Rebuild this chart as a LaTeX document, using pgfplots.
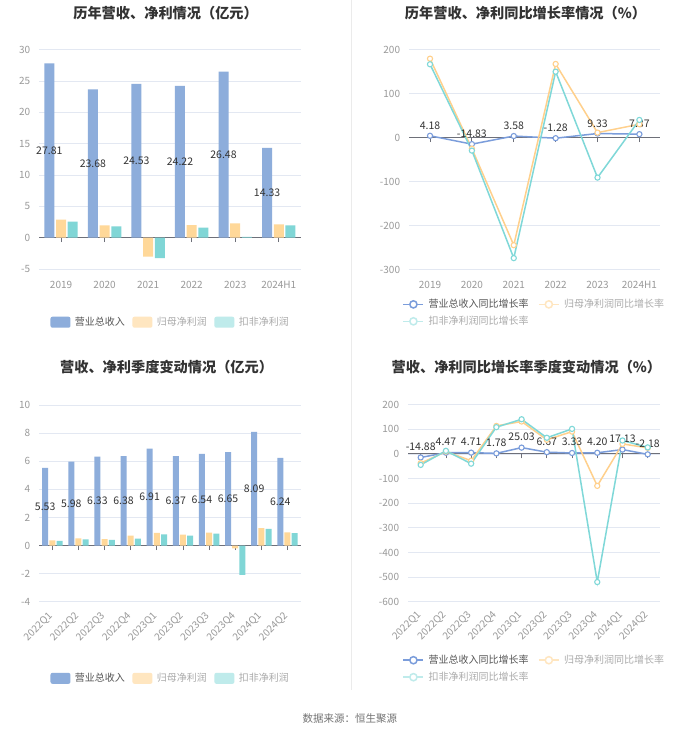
\documentclass[border=0pt]{standalone}
\usepackage{pgfplots}
\pgfplotsset{compat=1.18}
\usepackage{pgfplotstable}
\usepackage{fontspec}
\setmainfont{Noto Sans CJK SC}

\definecolor{cBlue}{HTML}{8DADDB}
\definecolor{cYel}{HTML}{FFD899}
\definecolor{cCyan}{HTML}{80D6D6}
\definecolor{lYel}{HTML}{FFE6C0}
\definecolor{lCyan}{HTML}{BFEBEB}
\definecolor{lnBlue}{HTML}{7B9DDB}
\definecolor{lnYel}{HTML}{FFD08C}
\definecolor{lnCyan}{HTML}{7FD8D8}
\definecolor{cGrid}{HTML}{E3E8F2}
\definecolor{cAxis}{HTML}{6E7079}
\definecolor{cTick}{HTML}{999999}
\definecolor{cTitle}{HTML}{333333}
\definecolor{cLab}{HTML}{333333}
\definecolor{cLeg}{HTML}{555555}
\definecolor{cLegL}{HTML}{AAAAAA}

% annual values (100M yuan)
\pgfplotstableread{
x rev np dnp
0 27.81 2.87 2.55
1 23.68 1.96 1.80
2 24.53 -3.03 -3.30
3 24.22 2.00 1.60
4 26.48 2.28 0.10
5 14.33 2.12 1.96
}\tabA
% annual growth (%)
\pgfplotstableread{
x rev np dnp
0 4.18 179.5 166.8
1 -14.83 -25.0 -29.5
2 3.58 -244.6 -274.0
3 -1.28 167.5 150.0
4 9.33 11.4 -90.9
5 7.87 30.4 40.2
}\tabB
% quarterly values (100M yuan)
\pgfplotstableread{
x rev np dnp
0 5.53 0.38 0.33
1 5.98 0.52 0.45
2 6.33 0.47 0.40
3 6.38 0.71 0.50
4 6.91 0.90 0.80
5 6.37 0.78 0.71
6 6.54 0.92 0.85
7 6.65 -0.20 -2.09
8 8.09 1.24 1.19
9 6.24 0.95 0.88
}\tabC
% quarterly growth (%)
\pgfplotstableread{
x rev np dnp
0 -14.88 -38 -45
1 4.47 9 12
2 4.71 -28 -40
3 1.78 113 108
4 25.03 131 140
5 6.67 57 65
6 3.33 90 101
7 4.20 -130 -520
8 17.13 40 54
9 -2.18 24 26
}\tabD

\pgfplotsset{
  base/.style={
    scale only axis, anchor=south west, clip=false,
    axis x line=middle, axis y line=left,
    x axis line style={-, draw=cAxis, line width=0.8pt},
    y axis line style={draw=none},
    ytick style={draw=none},
    xtick style={draw=cAxis, line width=0.8pt},
    tick align=outside, major tick length=4.5pt,
    hide obscured x ticks=false, hide obscured y ticks=false,
    ymajorgrids, grid style={cGrid, line width=0.6pt},
    tick label style={font=\fontsize{10}{12}\selectfont, text=cTick},
    yticklabel style={anchor=east, xshift=-1pt},
    /pgf/number format/assume math mode=true,
    enlargelimits=false,
    legend style={draw=none, fill=none, inner sep=0pt,
      font=\fontsize{10}{12}\selectfont,
      nodes={inner sep=1.5pt, anchor=west}},
    legend cell align=left,
  },
  barleg/.style={
    legend image code/.code={\fill[##1, draw=none, rounded corners=2pt] (0pt,-5.5pt) rectangle (20pt,5.5pt);},
    legend columns=3,
    legend style={/tikz/every odd column/.append style={column sep=3pt},
                  /tikz/every even column/.append style={column sep=6pt}},
  },
  lineleg/.style={
    legend image code/.code={\draw[##1, line width=1.5pt] (0pt,0pt) -- (20pt,0pt);
       \draw[##1, line width=1.5pt, fill=white] (10pt,0pt) circle (3.6pt);},
    legend columns=2,
    legend style={row sep=4pt,
                  /tikz/every odd column/.append style={column sep=3pt},
                  /tikz/every even column/.append style={column sep=8pt}},
  },
  vlab/.style={
    nodes near coords={\pgfmathprintnumber[fixed,fixed zerofill,precision=2]{\pgfplotspointmeta}},
    every node near coord/.append style={font=\fontsize{10.5}{12}\selectfont, text=cLab},
  },
  ln/.style={line width=1.5pt, color=#1, mark=*, mark size=2.6pt,
    mark options={fill=white, draw=#1, line width=1.1pt}},
}

\begin{document}
\begin{tikzpicture}
\fill[white] (0pt,0pt) rectangle (700pt,734pt);
\draw[color=black!8, line width=0.8pt] (352pt,734pt) -- (352pt,44pt);

% ---------------- panel 1 ----------------
\node[font=\fontsize{14.2}{16}\selectfont\bfseries, text=cTitle] at (165.7pt,721.3pt) {历年营收、净利情况（亿元）};
\begin{axis}[base, barleg,
  at={(39.3pt,465.4pt)}, width=261.4pt, height=219.3pt,
  xmin=-0.5, xmax=5.5, ymin=-5, ymax=30,
  ytick={-5,0,...,30},
  xtick={0,...,5}, xticklabels={2019,2020,2021,2022,2023,2024H1},
  xticklabel style={anchor=center, yshift=-42.7pt},
  legend style={at={(0.502,-0.2435)}, anchor=center},
]
\addplot[forget plot, ybar, bar width=10pt, bar shift=-11.7pt, fill=cBlue, draw=none] table[x=x, y=rev] {\tabA};
\addplot[forget plot, ybar, bar width=10pt, bar shift=0pt, fill=cYel, draw=none] table[x=x, y=np] {\tabA};
\addplot[forget plot, ybar, bar width=10pt, bar shift=11.7pt, fill=cCyan, draw=none] table[x=x, y=dnp] {\tabA};
\addplot[forget plot, draw=none, mark=none, vlab, point meta=explicit,
  every node near coord/.append style={anchor=center, xshift=-11.7pt}]
  table[x=x, y expr=\thisrow{rev}/2, meta=rev] {\tabA};
\addlegendimage{fill=cBlue}\addlegendentry{\textcolor{cLeg}{营业总收入}}
\addlegendimage{fill=lYel}\addlegendentry{\textcolor{cLegL}{归母净利润}}
\addlegendimage{fill=lCyan}\addlegendentry{\textcolor{cLegL}{扣非净利润}}
\end{axis}

% ---------------- panel 2 ----------------
\node[font=\fontsize{14.2}{16}\selectfont\bfseries, text=cTitle] at (525.8pt,721.3pt) {历年营收、净利同比增长率情况（\%）};
\begin{axis}[base, lineleg,
  at={(409.3pt,464.7pt)}, width=251.4pt, height=220pt,
  xmin=-0.5, xmax=5.5, ymin=-300, ymax=200,
  ytick={-300,-200,...,200},
  xtick={0,...,5}, xticklabels={2019,2020,2021,2022,2023,2024H1},
  xticklabel style={anchor=center, yshift=-142.6pt},
  legend style={at={(-0.0263,-0.128)}, anchor=north west},
]
\addplot[forget plot, ln=lnBlue, vlab, point meta=explicit,
  every node near coord/.append style={anchor=south, yshift=2.5pt}]
  table[x=x, y=rev, meta=rev] {\tabB};
\addplot[forget plot, ln=lnYel] table[x=x, y=np] {\tabB};
\addplot[forget plot, ln=lnCyan] table[x=x, y=dnp] {\tabB};
\addlegendimage{color=lnBlue}\addlegendentry{\textcolor{cLeg}{营业总收入同比增长率}}
\addlegendimage{color=lYel}\addlegendentry{\textcolor{cLegL}{归母净利润同比增长率}}
\addlegendimage{color=lCyan}\addlegendentry{\textcolor{cLegL}{扣非净利润同比增长率}}
\end{axis}

% ---------------- panel 3 ----------------
\node[font=\fontsize{14.2}{16}\selectfont\bfseries, text=cTitle] at (166.7pt,367.3pt) {营收、净利季度变动情况（亿元）};
\begin{axis}[base, barleg,
  at={(39.3pt,132.3pt)}, width=261.4pt, height=196.7pt,
  xmin=-0.5, xmax=9.5, ymin=-4, ymax=10,
  ytick={-4,-2,...,10},
  xtick={0,...,9},
  xticklabels={2022Q1,2022Q2,2022Q3,2022Q4,2023Q1,2023Q2,2023Q3,2023Q4,2024Q1,2024Q2},
  xticklabel style={yshift=-62pt, xshift=1pt, rotate=45, anchor=east},
  legend style={at={(0.502,-0.3894)}, anchor=center},
]
\addplot[forget plot, ybar, bar width=6pt, bar shift=-7.2pt, fill=cBlue, draw=none] table[x=x, y=rev] {\tabC};
\addplot[forget plot, ybar, bar width=6pt, bar shift=0pt, fill=cYel, draw=none] table[x=x, y=np] {\tabC};
\addplot[forget plot, ybar, bar width=6pt, bar shift=7.2pt, fill=cCyan, draw=none] table[x=x, y=dnp] {\tabC};
\addplot[forget plot, draw=none, mark=none, vlab, point meta=explicit,
  every node near coord/.append style={anchor=center, xshift=-7.2pt}]
  table[x=x, y expr=\thisrow{rev}/2, meta=rev] {\tabC};
\addlegendimage{fill=cBlue}\addlegendentry{\textcolor{cLeg}{营业总收入}}
\addlegendimage{fill=lYel}\addlegendentry{\textcolor{cLegL}{归母净利润}}
\addlegendimage{fill=lCyan}\addlegendentry{\textcolor{cLegL}{扣非净利润}}
\end{axis}

% ---------------- panel 4 ----------------
\node[font=\fontsize{14.2}{16}\selectfont\bfseries, text=cTitle] at (526.7pt,367.3pt) {营收、净利同比增长率季度变动情况（\%）};
\begin{axis}[base, lineleg,
  at={(408.3pt,132.3pt)}, width=252.4pt, height=197.4pt,
  xmin=-0.5, xmax=9.5, ymin=-600, ymax=200,
  ytick={-600,-500,...,200},
  xtick={0,...,9},
  xticklabels={2022Q1,2022Q2,2022Q3,2022Q4,2023Q1,2023Q2,2023Q3,2023Q4,2024Q1,2024Q2},
  xticklabel style={yshift=-153pt, xshift=1pt, rotate=45, anchor=east},
  legend style={at={(-0.0222,-0.2624)}, anchor=north west},
]
\addplot[forget plot, ln=lnBlue, vlab, point meta=explicit,
  every node near coord/.append style={anchor=south, yshift=3pt}]
  table[x=x, y=rev, meta=rev] {\tabD};
\addplot[forget plot, ln=lnYel] table[x=x, y=np] {\tabD};
\addplot[forget plot, ln=lnCyan] table[x=x, y=dnp] {\tabD};
\addlegendimage{color=lnBlue}\addlegendentry{\textcolor{cLeg}{营业总收入同比增长率}}
\addlegendimage{color=lYel}\addlegendentry{\textcolor{cLegL}{归母净利润同比增长率}}
\addlegendimage{color=lCyan}\addlegendentry{\textcolor{cLegL}{扣非净利润同比增长率}}
\end{axis}

\node[font=\fontsize{10.5}{12}\selectfont, text=black!55] at (350pt,15.7pt) {数据来源：恒生聚源};
\end{tikzpicture}
\end{document}
